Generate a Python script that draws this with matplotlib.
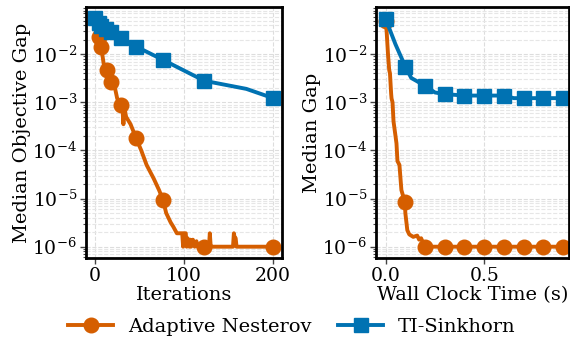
import matplotlib
matplotlib.use("Agg")
import matplotlib.pyplot as plt
from matplotlib.ticker import LogLocator, NullFormatter

# ---------------- data ----------------
# Left panel: objective gap vs iterations
nest_iter = [0, 2, 4.5, 7, 10, 13, 15, 18, 22, 25, 29, 31, 32, 33, 35, 40, 46, 52, 58,
             66, 72, 76.5, 80, 85, 88, 92, 98, 99, 100, 102, 103, 104, 106, 107, 108,
             110, 111, 112, 114, 115, 116, 118, 122.7, 128, 129, 130, 131, 155, 156,
             157, 158, 159, 200]
nest_iter_gap = [0.05, 0.035, 0.023, 0.0144, 0.006, 0.0046, 0.004, 0.0027, 0.0022,
                 0.0012, 0.0009, 0.0007, 0.00035, 0.0008, 0.0005, 0.00035, 0.000185,
                 1.0e-4, 5.0e-5, 2.6e-5, 1.5e-5, 9.3e-6, 5.0e-6, 3.2e-6, 2.6e-6, 1.9e-6,
                 1.9e-6, 1.0e-6, 1.9e-6, 1.9e-6, 1.0e-6, 1.5e-6, 1.0e-6, 1.4e-6, 1.0e-6,
                 1.4e-6, 1.2e-6, 1.0e-6, 1.3e-6, 1.0e-6, 1.1e-6, 1.0e-6, 1.0e-6, 1.0e-6,
                 1.9e-6, 1.0e-6, 1.0e-6, 1.0e-6, 1.9e-6, 1.5e-6, 1.5e-6, 1.0e-6, 1.0e-6]
nest_iter_marks = [2, 3, 5, 7, 10, 16, 21, 42, 52]

sink_iter = [0, 4.5, 7.2, 12.9, 17.8, 29.2, 46.2, 76.5, 122.7, 170, 200]
sink_iter_gap = [0.056, 0.045, 0.039, 0.033, 0.029, 0.0215, 0.0144, 0.0076, 0.0028,
                 0.0019, 0.00122]
sink_iter_marks = [0, 1, 2, 3, 4, 5, 6, 7, 8, 10]

# Right panel: gap vs wall clock time
nest_time = [0.0, 0.005, 0.012, 0.018, 0.022, 0.028, 0.03, 0.035, 0.04, 0.05, 0.055,
             0.06, 0.07, 0.08, 0.098, 0.1, 0.11, 0.12, 0.14, 0.16, 0.17, 0.18, 0.19,
             0.2, 0.3, 0.4, 0.5, 0.6, 0.7, 0.8, 0.9]
nest_time_gap = [0.05, 0.03, 0.01, 0.0047, 0.004, 0.0015, 0.0012, 0.001, 4e-4, 2e-4,
                 1.4e-4, 6e-5, 5e-5, 1.5e-5, 8.3e-6, 5e-6, 2.2e-6, 1.8e-6, 1.6e-6,
                 1.7e-6, 1.4e-6, 1.5e-6, 1.2e-6, 1.0e-6, 1.0e-6, 1.0e-6, 1.0e-6,
                 1.0e-6, 1.0e-6, 1.0e-6, 1.0e-6]
nest_time_marks = [0, 14, 23, 24, 25, 26, 27, 28, 29, 30]

sink_time = [0.0, 0.05, 0.1, 0.13, 0.2, 0.25, 0.3, 0.4, 0.5, 0.6, 0.65, 0.7, 0.8, 0.9]
sink_time_gap = [0.054, 0.016, 0.0055, 0.0032, 0.0022, 0.0016, 0.00148, 0.00138,
                 0.00138, 0.00138, 0.00122, 0.00122, 0.00122, 0.00122]
sink_time_marks = [0, 2, 4, 6, 7, 8, 9, 11, 12, 13]

labels = ["Adaptive Nesterov", "TI-Sinkhorn"]
xlabels = ["Iterations", "Wall Clock Time (s)"]
ylabels = ["Median Objective Gap", "Median Gap"]
xticks_left = [0, 100, 200]
xticks_right = [0.0, 0.5]

ORANGE = "#D55E00"
BLUE = "#0072B2"

plt.rcParams["font.family"] = ["DejaVu Serif"]
plt.rcParams["mathtext.fontset"] = "dejavuserif"

fig = plt.figure(figsize=(5.7, 3.43), dpi=100)
axL = fig.add_axes([0.1509, 0.2478, 0.3438, 0.7318])
axR = fig.add_axes([0.6596, 0.2478, 0.3386, 0.7318])

lw = 2.8
ms = 10.5

def style(ax, xl, yl):
    ax.set_yscale("log")
    ax.set_ylim(10 ** -6.235, 10 ** -1.02)
    ax.yaxis.set_major_locator(LogLocator(base=10, numticks=20))
    ax.yaxis.set_minor_locator(LogLocator(base=10, subs=range(2, 10), numticks=20))
    ax.yaxis.set_minor_formatter(NullFormatter())
    ax.grid(True, which="major", axis="both", ls="--", lw=0.8, color="#dddddd")
    ax.grid(True, which="minor", axis="y", ls="--", lw=0.8, color="#e6e6e6")
    ax.set_axisbelow(True)
    for s in ax.spines.values():
        s.set_linewidth(2.0)
        s.set_color("black")
    ax.tick_params(axis="both", which="major", labelsize=13.5, length=4, width=1,
                   color="#444444", pad=2.5)
    ax.tick_params(axis="y", which="minor", length=2.5, width=0.8, color="#444444")
    ax.set_xlabel(xl, fontsize=14, labelpad=1)
    ax.set_ylabel(yl, fontsize=14, labelpad=1)

axL.plot(nest_iter, nest_iter_gap, color=ORANGE, lw=lw, marker="o", ms=ms,
         markevery=nest_iter_marks, label=labels[0])
axL.plot(sink_iter, sink_iter_gap, color=BLUE, lw=lw, marker="s", ms=ms,
         markevery=sink_iter_marks, label=labels[1])
axL.set_xlim(-10, 210)
axL.set_xticks(xticks_left)
style(axL, xlabels[0], ylabels[0])

axR.plot(nest_time, nest_time_gap, color=ORANGE, lw=lw, marker="o", ms=ms,
         markevery=nest_time_marks)
axR.plot(sink_time, sink_time_gap, color=BLUE, lw=lw, marker="s", ms=ms,
         markevery=sink_time_marks)
axR.set_xlim(-0.049, 0.93)
axR.set_xticks(xticks_right)
axR.set_xticklabels(["0.0", "0.5"])
style(axR, xlabels[1], ylabels[1])

h, l = axL.get_legend_handles_labels()
fig.legend(h, l, loc="center", bbox_to_anchor=(0.512, 0.047), ncol=2, frameon=False,
           fontsize=14, columnspacing=1.4, handlelength=2.3, handletextpad=0.75)

fig.savefig("out.png", dpi=100)
